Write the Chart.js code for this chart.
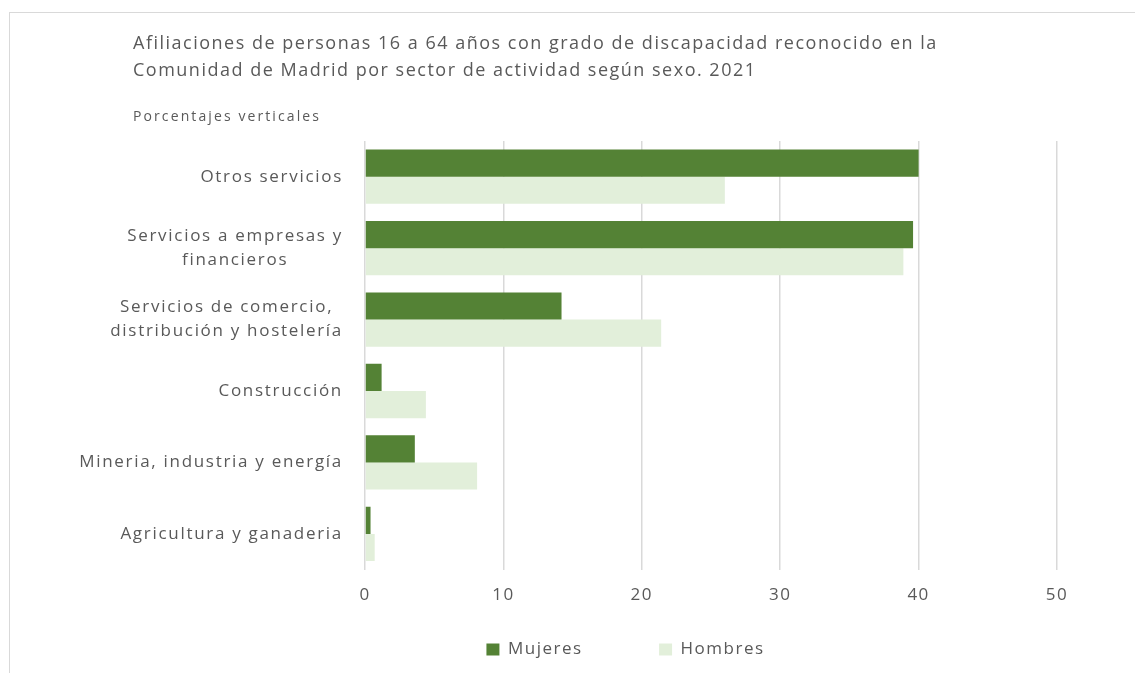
<!DOCTYPE html>
<html>
<head>
<meta charset="utf-8">
<script src="https://cdn.jsdelivr.net/npm/chart.js@4.4.0/dist/chart.umd.min.js"></script>
<style>
  html, body { margin: 0; padding: 0; background: #ffffff; overflow: hidden; }
  #frame { position: absolute; left: 9px; top: 12px; width: 2000px; height: 2000px; border-top: 1px solid #d9d9d9; border-left: 1px solid #d9d9d9; }
  #c { position: absolute; left: 0; top: 0; }
</style>
</head>
<body>
<div id="frame"></div>
<canvas id="c" width="1135" height="673"></canvas>
<script>
const titleLines = [
  'Afiliaciones de personas 16 a 64 años con grado de discapacidad reconocido en la',
  'Comunidad de Madrid por sector de actividad según sexo. 2021'
];
const subtitleText = 'Porcentajes verticales';
const categories = [
  'Otros servicios',
  ['Servicios a empresas y', 'financieros'],
  ['Servicios de comercio,', 'distribución y hostelería'],
  'Construcción',
  'Mineria, industria y energía',
  'Agricultura y ganaderia'
];
const seriesNames = ['Mujeres', 'Hombres'];
const mujeres = [40.0, 39.6, 14.2, 1.2, 3.6, 0.4];
const hombres = [26.0, 38.9, 21.4, 4.4, 8.1, 0.7];
const xMin = 0, xMax = 50, xStep = 10;

const FONT = "'Open Sans', 'DejaVu Sans', sans-serif";
const TEXT = '#595959';
const SPACING = '1.5px';
const SUB_PAD_BOTTOM = 16.4;

const spacingPlugin = {
  id: 'spacing',
  beforeInit(chart) { chart.ctx.letterSpacing = SPACING; },
  beforeUpdate(chart) { chart.ctx.letterSpacing = SPACING; },
  beforeDraw(chart) { chart.ctx.letterSpacing = SPACING; }
};

const textPlugin = {
  id: 'extraText',
  afterDraw(chart) {
    const y = chart.scales.y;
    const ctx = chart.ctx;
    ctx.save();
    ctx.fillStyle = TEXT;
    ctx.textBaseline = 'middle';
    // subtitle
    ctx.letterSpacing = '2.1px';
    ctx.font = '14px ' + FONT;
    ctx.textAlign = 'left';
    ctx.fillText(subtitleText, chart.options.layout.padding.left, chart.chartArea.top - SUB_PAD_BOTTOM - 7.8);
    // category labels
    ctx.letterSpacing = '1.7px';
    ctx.font = '17px ' + FONT;
    ctx.textAlign = 'center';
    const lh = 24;
    categories.forEach((lab, i) => {
      const lines = Array.isArray(lab) ? lab : [lab];
      const w = Math.max(...lines.map(l => ctx.measureText(l).width));
      const cx = y.right - 22 - w / 2;
      const cy = y.getPixelForTick(i);
      lines.forEach((l, k) => {
        ctx.fillText(l, cx, cy + (k - (lines.length - 1) / 2) * lh);
      });
    });
    ctx.restore();
  }
};

new Chart(document.getElementById('c'), {
  type: 'bar',
  data: {
    labels: categories,
    datasets: [
      { label: seriesNames[0], data: mujeres, backgroundColor: '#548235', borderWidth: 0,
        categoryPercentage: 0.76, barPercentage: 1.0 },
      { label: seriesNames[1], data: hombres, backgroundColor: '#E2EFDA', borderWidth: 0,
        categoryPercentage: 0.76, barPercentage: 1.0 }
    ]
  },
  options: {
    indexAxis: 'y',
    responsive: false,
    animation: false,
    layout: { padding: { left: 133, right: 17, top: 0, bottom: 5 } },
    plugins: {
      title: {
        display: true, text: titleLines, align: 'start', color: TEXT,
        font: { family: FONT, size: 18, weight: 'normal', lineHeight: 1.5 },
        padding: { top: 30, bottom: 0 }
      },
      subtitle: {
        display: true, text: subtitleText, align: 'start', color: 'rgba(0,0,0,0)',
        font: { family: FONT, size: 13, weight: 'normal', lineHeight: 1.2 },
        padding: { top: 25, bottom: SUB_PAD_BOTTOM }
      },
      legend: {
        position: 'bottom',
        labels: {
          color: TEXT, boxWidth: 13, boxHeight: 12, padding: 21,
          font: { family: FONT, size: 17 },
          generateLabels(chart) {
            const items = Chart.defaults.plugins.legend.labels.generateLabels(chart);
            items.forEach((it, i) => { if (i < items.length - 1) it.text = it.text + '\u2003\u2003\u2003'; it.lineWidth = 0; });
            return items;
          }
        }
      },
      tooltip: { enabled: false }
    },
    scales: {
      x: {
        min: xMin, max: xMax,
        ticks: { stepSize: xStep, color: TEXT, font: { family: FONT, size: 17 }, padding: 15 },
        grid: { color: '#d9d9d9', lineWidth: 1.5, drawTicks: false },
        border: { display: false }
      },
      y: {
        ticks: { display: false },
        grid: { display: false },
        border: { display: false },
        afterFit(s) { s.width = 232; }
      },
      yR: {
        type: 'linear', position: 'right', axis: 'y',
        ticks: { display: false },
        grid: { display: false },
        border: { display: false },
        afterFit(s) { s.width = 61; }
      }
    }
  },
  plugins: [spacingPlugin, textPlugin]
});
</script>
</body>
</html>
